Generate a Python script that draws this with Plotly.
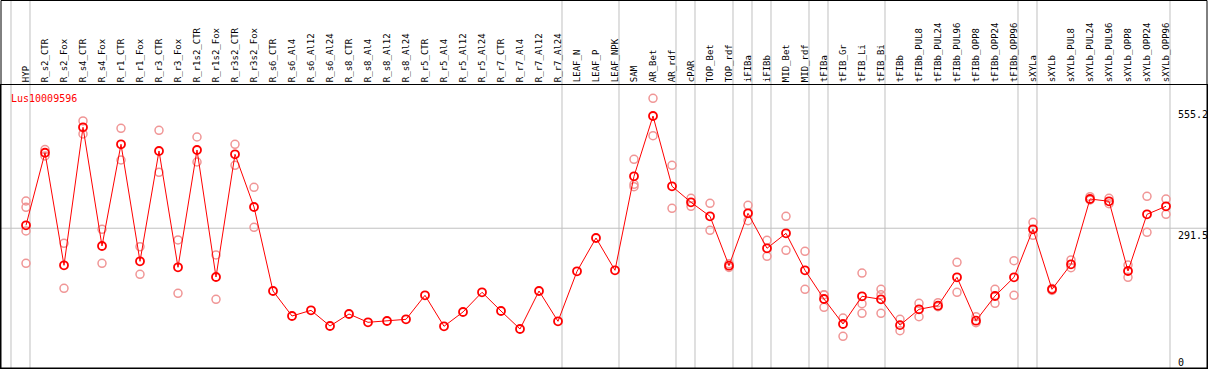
import plotly.graph_objects as go

categories = ["HYP", "R_s2_CTR", "R_s2_Fox", "R_s4_CTR", "R_s4_Fox", "R_r1_CTR", "R_r1_Fox",
              "R_r3_CTR", "R_r3_Fox", "R_r1s2_CTR", "R_r1s2_Fox", "R_r3s2_CTR", "R_r3s2_Fox",
              "R_s6_CTR", "R_s6_Al4", "R_s6_Al12", "R_s6_Al24", "R_s8_CTR", "R_s8_Al4", "R_s8_Al12",
              "R_s8_Al24", "R_r5_CTR", "R_r5_Al4", "R_r5_Al12", "R_r5_Al24", "R_r7_CTR", "R_r7_Al4",
              "R_r7_Al12", "R_r7_Al24", "LEAF_N", "LEAF_P", "LEAF_NPK", "SAM", "AR_Bet", "AR_rdf",
              "cPAR", "TOP_Bet", "TOP_rdf", "iFIBa", "iFIBb", "MID_Bet", "MID_rdf", "tFIBa",
              "tFIB_Gr", "tFIB_Li", "tFIB_Bi", "tFIBb", "tFIBb_PUL8", "tFIBb_PUL24", "tFIBb_PUL96",
              "tFIBb_OPP8", "tFIBb_OPP24", "tFIBb_OPP96", "sXYLa", "sXYLb", "sXYLb_PUL8",
              "sXYLb_PUL24", "sXYLb_PUL96", "sXYLb_OPP8", "sXYLb_OPP24", "sXYLb_OPP96"]

means = [297.9, 456.0, 210.7, 511.4, 252.8, 474.4, 219.4, 459.8, 206.4, 462.0, 185.2, 452.6, 337.8,
         154.7, 100.2, 112.6, 78.4, 104.6, 86.5, 89.3, 93.0, 145.3, 77.8, 109.0, 151.9, 111.1, 71.9,
         154.7, 88.7, 197.6, 270.2, 199.8, 404.7, 536.0, 382.9, 348.0, 317.5, 209.9, 324.0, 247.8,
         280.4, 199.8, 137.3, 82.8, 143.2, 136.6, 80.3, 114.8, 122.7, 184.6, 90.0, 143.8, 184.6,
         289.2, 158.4, 212.9, 355.2, 350.2, 198.3, 321.8, 339.3]

replicates = [
    [350.8, 337.1, 285.5, 215.1], [463.0, 449.0], [258.7, 160.6], [525.2, 497.0], [289.2, 215.1],
    [509.3, 440.2], [251.3, 191.1], [504.9, 413.4], [265.9, 149.7], [490.3, 435.8], [233.2, 136.6],
    [474.4, 428.6], [380.7, 293.5],
    [], [], [], [], [], [], [], [], [], [], [], [], [], [], [], [], [], [], [],
    [441.7, 387.2, 382.0], [574.6, 493.1], [428.6, 334.9], [356.7, 339.3], [345.8, 287.0],
    [214.0, 206.0], [341.5, 307.9], [265.2, 230.3], [317.5, 243.4], [241.2, 158.4],
    [146.7, 146.0, 119.2], [95.9, 56.0], [193.9, 127.0, 106.1], [158.4, 146.7, 106.1],
    [93.0, 68.2], [127.9, 98.7], [129.2, 120.5], [217.3, 151.9], [98.7, 85.6], [158.4, 127.9],
    [220.7, 145.3], [304.4, 276.1], [160.0, 156.0], [222.3, 205.5], [360.3, 353.0],
    [356.7, 345.0], [211.4, 184.6], [361.1, 282.6], [355.2, 321.8],
]

# indices of the last category in each group (separator drawn after it)
group_ends = [-1, 0, 28, 31, 34, 35, 37, 38, 39, 41, 42, 45, 52, 53, 60]

axis_labels = ["555.2", "291.5", "0"]
axis_values = [555.2, 291.5, 0]
gene = "Lus10009596"

x_idx = list(range(len(categories)))
rep_x, rep_y = [], []
for i, reps in enumerate(replicates):
    for v in reps:
        rep_x.append(i)
        rep_y.append(v)

fig = go.Figure()
fig.add_trace(go.Scatter(x=rep_x, y=rep_y, mode="markers",
                         marker=dict(symbol="circle-open", size=8, color="rgb(240,150,150)",
                                     line=dict(width=1.5)),
                         showlegend=False, hoverinfo="skip"))
fig.add_trace(go.Scatter(x=x_idx, y=means, mode="lines+markers",
                         line=dict(color="#ff0000", width=1),
                         marker=dict(symbol="circle-open", size=8, color="#ff0000",
                                     line=dict(width=1.8)),
                         showlegend=False))

W, H = 1209, 370
ml, mr, mt, mb = 1, 2, 85, 2
ph = H - mt - mb
top_paper = 1 + (mt - 0.5) / ph

shapes = []
for k in group_ends:
    shapes.append(dict(type="line", xref="x", yref="paper", x0=k + 0.21, x1=k + 0.21,
                       y0=0, y1=top_paper, line=dict(color="#c0c0c0", width=1), layer="below"))
shapes.append(dict(type="line", xref="paper", yref="y", x0=0, x1=1, y0=axis_values[1],
                   y1=axis_values[1], line=dict(color="#c0c0c0", width=1), layer="below"))
shapes.append(dict(type="rect", xref="paper", yref="paper", x0=0, x1=1, y0=0, y1=top_paper,
                   line=dict(color="black", width=1), fillcolor="rgba(0,0,0,0)"))

annotations = [dict(text=gene, xref="paper", yref="paper", x=(9 - ml) / (W - ml - mr), y=1 - 6 / ph,
                    xanchor="left", yanchor="top", showarrow=False,
                    font=dict(family="DejaVu Sans Mono", size=10, color="#ff0000"))]
for lab, v, ya in zip(axis_labels, axis_values, ["top", "top", "middle"]):
    annotations.append(dict(text=lab, xref="paper", yref="y", x=(1176 - ml) / (W - ml - mr), y=v,
                            xanchor="left", yanchor=ya, showarrow=False,
                            font=dict(family="DejaVu Sans Mono", size=10, color="black")))

fig.update_layout(
    width=W, height=H, margin=dict(l=ml, r=mr, t=mt, b=mb),
    paper_bgcolor="white", plot_bgcolor="white",
    xaxis=dict(range=[(ml - 26) / 19, (W - mr - 26) / 19], side="top", tickmode="array",
               tickvals=x_idx, ticktext=categories, tickangle=-90, ticks="",
               tickfont=dict(family="DejaVu Sans Mono", size=9, color="black"),
               showgrid=False, zeroline=False, showline=True, linecolor="black", mirror=True),
    yaxis=dict(range=[-13.07, 603.6], showticklabels=False, showgrid=False, zeroline=False,
               showline=True, linecolor="black", mirror=True),
    shapes=shapes, annotations=annotations,
)

fig.write_html("out.html", config={"displayModeBar": False},
               post_script="document.body.style.margin='0px';document.body.style.overflow='hidden';")
